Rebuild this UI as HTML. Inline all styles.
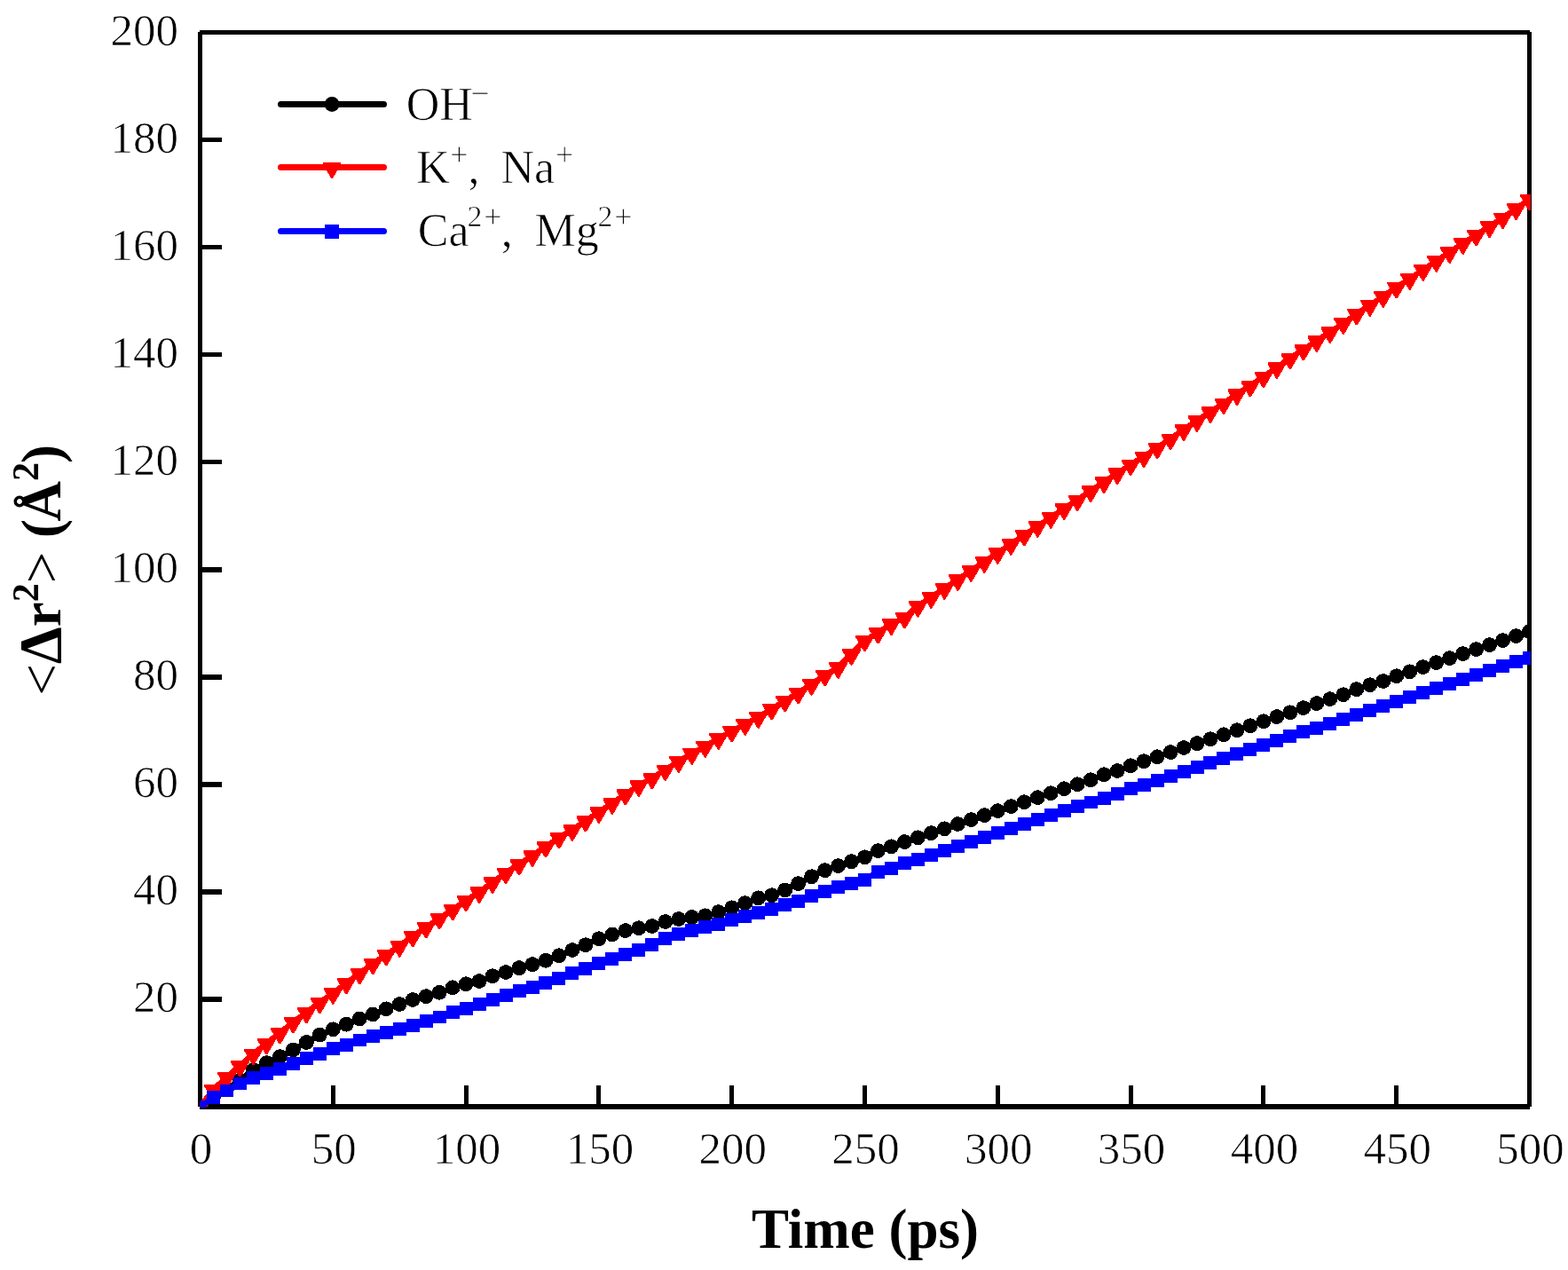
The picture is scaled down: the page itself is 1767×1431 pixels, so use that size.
<!DOCTYPE html>
<html><head><meta charset="utf-8"><title>MSD plot</title>
<style>html,body{margin:0;padding:0;background:#fff;} svg{display:block;} text{white-space:pre;}</style>
</head><body>
<svg width="1767" height="1431" viewBox="0 0 1767 1431">
<rect x="0" y="0" width="1767" height="1431" fill="#fff"/>
<defs><clipPath id="pc"><rect x="225.6" y="36" width="1499.3" height="1211.6"/></clipPath></defs>
<g stroke="#000" stroke-width="5" fill="none" shape-rendering="crispEdges">
<path d="M225.5,36 V1247 M1723.5,36 V1247 M225,36.5 H1724"/>
<path d="M225,1247.0 H1724" stroke-width="6"/>
<path d="M225.5,1125.95 H250.0" stroke-width="5.5"/>
<path d="M225.5,1004.90 H250.0" stroke-width="5.5"/>
<path d="M225.5,883.85 H250.0" stroke-width="5.5"/>
<path d="M225.5,762.80 H250.0" stroke-width="5.5"/>
<path d="M225.5,641.75 H250.0" stroke-width="5.5"/>
<path d="M225.5,520.70 H250.0" stroke-width="5.5"/>
<path d="M225.5,399.65 H250.0" stroke-width="5.5"/>
<path d="M225.5,278.60 H250.0" stroke-width="5.5"/>
<path d="M225.5,157.55 H250.0" stroke-width="5.5"/>
<path d="M375.30,1247.0 V1222.5"/>
<path d="M525.10,1247.0 V1222.5"/>
<path d="M674.90,1247.0 V1222.5"/>
<path d="M824.70,1247.0 V1222.5"/>
<path d="M974.50,1247.0 V1222.5"/>
<path d="M1124.30,1247.0 V1222.5"/>
<path d="M1274.10,1247.0 V1222.5"/>
<path d="M1423.90,1247.0 V1222.5"/>
<path d="M1573.70,1247.0 V1222.5"/>
</g>
<g font-family="'Liberation Serif', 'Times New Roman', serif" font-size="51" fill="#000" stroke="#fff" stroke-width="0.7">
<text x="200.9" y="1140.4" text-anchor="end">20</text>
<text x="200.9" y="1019.3" text-anchor="end">40</text>
<text x="200.9" y="898.2" text-anchor="end">60</text>
<text x="200.9" y="777.2" text-anchor="end">80</text>
<text x="200.9" y="656.1" text-anchor="end">100</text>
<text x="200.9" y="535.1" text-anchor="end">120</text>
<text x="200.9" y="414.0" text-anchor="end">140</text>
<text x="200.9" y="293.0" text-anchor="end">160</text>
<text x="200.9" y="171.9" text-anchor="end">180</text>
<text x="200.9" y="50.9" text-anchor="end">200</text>
<text x="226.5" y="1311.3" text-anchor="middle">0</text>
<text x="376.3" y="1311.3" text-anchor="middle">50</text>
<text x="526.1" y="1311.3" text-anchor="middle">100</text>
<text x="675.9" y="1311.3" text-anchor="middle">150</text>
<text x="825.7" y="1311.3" text-anchor="middle">200</text>
<text x="975.5" y="1311.3" text-anchor="middle">250</text>
<text x="1125.3" y="1311.3" text-anchor="middle">300</text>
<text x="1275.1" y="1311.3" text-anchor="middle">350</text>
<text x="1424.9" y="1311.3" text-anchor="middle">400</text>
<text x="1574.7" y="1311.3" text-anchor="middle">450</text>
<text x="1724.5" y="1311.3" text-anchor="middle">500</text>
</g>
<text x="975" y="1405.5" text-anchor="middle" font-family="'Liberation Serif', 'Times New Roman', serif" font-weight="bold" font-size="63">Time (ps)</text>
<text transform="translate(68,783.85) rotate(-90)" font-family="'Liberation Serif', 'Times New Roman', serif" font-size="63"><tspan>&lt;</tspan><tspan font-weight="bold" font-size="67">&#916;</tspan><tspan font-weight="bold">r</tspan><tspan font-weight="bold" font-size="42" dy="-25.5">2</tspan><tspan dy="25.5">&gt; </tspan><tspan font-weight="bold">(</tspan><tspan font-weight="bold" dx="-2.5">&#197;</tspan><tspan font-weight="bold" font-size="42" dy="-25.5">2</tspan><tspan font-weight="bold" dy="25.5" dx="-1">)</tspan></text>
<g clip-path="url(#pc)" shape-rendering="crispEdges">
<polyline points="225.50,1247.00 240.48,1236.11 255.46,1227.03 270.44,1217.52 285.42,1205.48 300.40,1197.61 315.38,1190.59 330.36,1182.90 345.34,1174.49 360.32,1166.08 375.30,1159.78 390.28,1154.22 405.26,1147.92 420.24,1142.90 435.22,1136.78 450.20,1131.52 465.18,1126.49 480.16,1122.62 495.14,1118.38 510.12,1112.82 525.10,1108.70 540.08,1105.49 555.06,1099.68 570.04,1095.51 585.02,1090.60 600.00,1086.61 614.98,1082.37 629.96,1076.74 644.94,1070.51 659.92,1064.64 674.90,1057.74 689.88,1052.90 704.86,1048.60 719.84,1045.69 734.82,1043.51 749.80,1038.49 764.78,1035.53 779.76,1033.47 794.74,1031.77 809.72,1027.60 824.70,1022.82 839.68,1017.61 854.66,1011.80 869.64,1008.71 884.62,1002.90 899.60,995.58 914.58,987.71 929.56,980.69 944.54,975.61 959.52,970.70 974.50,965.80 989.48,958.60 1004.46,953.88 1019.44,948.67 1034.42,943.77 1049.40,938.69 1064.38,933.78 1079.36,928.52 1094.34,923.61 1109.32,918.59 1124.30,913.63 1139.28,908.60 1154.26,903.70 1169.24,898.62 1184.22,893.72 1199.20,888.69 1214.18,883.67 1229.16,878.71 1244.14,872.71 1259.12,868.48 1274.10,862.79 1289.08,857.70 1304.06,852.80 1319.04,847.60 1334.02,842.57 1349.00,837.61 1363.98,832.71 1378.96,827.80 1393.94,822.78 1408.92,817.70 1423.90,812.79 1438.88,807.59 1453.86,802.81 1468.84,797.60 1483.82,792.58 1498.80,787.62 1513.78,782.71 1528.76,776.72 1543.74,771.70 1558.72,767.52 1573.70,761.71 1588.68,756.81 1603.66,751.66 1618.64,746.64 1633.62,741.62 1648.60,736.59 1663.58,731.57 1678.56,726.61 1693.54,721.58 1708.52,716.62 1723.50,711.66" fill="none" stroke="#000" stroke-width="6.5" stroke-linejoin="round"/>
<g fill="#000"><circle cx="225.50" cy="1247.00" r="8.4"/><circle cx="240.48" cy="1236.11" r="8.4"/><circle cx="255.46" cy="1227.03" r="8.4"/><circle cx="270.44" cy="1217.52" r="8.4"/><circle cx="285.42" cy="1205.48" r="8.4"/><circle cx="300.40" cy="1197.61" r="8.4"/><circle cx="315.38" cy="1190.59" r="8.4"/><circle cx="330.36" cy="1182.90" r="8.4"/><circle cx="345.34" cy="1174.49" r="8.4"/><circle cx="360.32" cy="1166.08" r="8.4"/><circle cx="375.30" cy="1159.78" r="8.4"/><circle cx="390.28" cy="1154.22" r="8.4"/><circle cx="405.26" cy="1147.92" r="8.4"/><circle cx="420.24" cy="1142.90" r="8.4"/><circle cx="435.22" cy="1136.78" r="8.4"/><circle cx="450.20" cy="1131.52" r="8.4"/><circle cx="465.18" cy="1126.49" r="8.4"/><circle cx="480.16" cy="1122.62" r="8.4"/><circle cx="495.14" cy="1118.38" r="8.4"/><circle cx="510.12" cy="1112.82" r="8.4"/><circle cx="525.10" cy="1108.70" r="8.4"/><circle cx="540.08" cy="1105.49" r="8.4"/><circle cx="555.06" cy="1099.68" r="8.4"/><circle cx="570.04" cy="1095.51" r="8.4"/><circle cx="585.02" cy="1090.60" r="8.4"/><circle cx="600.00" cy="1086.61" r="8.4"/><circle cx="614.98" cy="1082.37" r="8.4"/><circle cx="629.96" cy="1076.74" r="8.4"/><circle cx="644.94" cy="1070.51" r="8.4"/><circle cx="659.92" cy="1064.64" r="8.4"/><circle cx="674.90" cy="1057.74" r="8.4"/><circle cx="689.88" cy="1052.90" r="8.4"/><circle cx="704.86" cy="1048.60" r="8.4"/><circle cx="719.84" cy="1045.69" r="8.4"/><circle cx="734.82" cy="1043.51" r="8.4"/><circle cx="749.80" cy="1038.49" r="8.4"/><circle cx="764.78" cy="1035.53" r="8.4"/><circle cx="779.76" cy="1033.47" r="8.4"/><circle cx="794.74" cy="1031.77" r="8.4"/><circle cx="809.72" cy="1027.60" r="8.4"/><circle cx="824.70" cy="1022.82" r="8.4"/><circle cx="839.68" cy="1017.61" r="8.4"/><circle cx="854.66" cy="1011.80" r="8.4"/><circle cx="869.64" cy="1008.71" r="8.4"/><circle cx="884.62" cy="1002.90" r="8.4"/><circle cx="899.60" cy="995.58" r="8.4"/><circle cx="914.58" cy="987.71" r="8.4"/><circle cx="929.56" cy="980.69" r="8.4"/><circle cx="944.54" cy="975.61" r="8.4"/><circle cx="959.52" cy="970.70" r="8.4"/><circle cx="974.50" cy="965.80" r="8.4"/><circle cx="989.48" cy="958.60" r="8.4"/><circle cx="1004.46" cy="953.88" r="8.4"/><circle cx="1019.44" cy="948.67" r="8.4"/><circle cx="1034.42" cy="943.77" r="8.4"/><circle cx="1049.40" cy="938.69" r="8.4"/><circle cx="1064.38" cy="933.78" r="8.4"/><circle cx="1079.36" cy="928.52" r="8.4"/><circle cx="1094.34" cy="923.61" r="8.4"/><circle cx="1109.32" cy="918.59" r="8.4"/><circle cx="1124.30" cy="913.63" r="8.4"/><circle cx="1139.28" cy="908.60" r="8.4"/><circle cx="1154.26" cy="903.70" r="8.4"/><circle cx="1169.24" cy="898.62" r="8.4"/><circle cx="1184.22" cy="893.72" r="8.4"/><circle cx="1199.20" cy="888.69" r="8.4"/><circle cx="1214.18" cy="883.67" r="8.4"/><circle cx="1229.16" cy="878.71" r="8.4"/><circle cx="1244.14" cy="872.71" r="8.4"/><circle cx="1259.12" cy="868.48" r="8.4"/><circle cx="1274.10" cy="862.79" r="8.4"/><circle cx="1289.08" cy="857.70" r="8.4"/><circle cx="1304.06" cy="852.80" r="8.4"/><circle cx="1319.04" cy="847.60" r="8.4"/><circle cx="1334.02" cy="842.57" r="8.4"/><circle cx="1349.00" cy="837.61" r="8.4"/><circle cx="1363.98" cy="832.71" r="8.4"/><circle cx="1378.96" cy="827.80" r="8.4"/><circle cx="1393.94" cy="822.78" r="8.4"/><circle cx="1408.92" cy="817.70" r="8.4"/><circle cx="1423.90" cy="812.79" r="8.4"/><circle cx="1438.88" cy="807.59" r="8.4"/><circle cx="1453.86" cy="802.81" r="8.4"/><circle cx="1468.84" cy="797.60" r="8.4"/><circle cx="1483.82" cy="792.58" r="8.4"/><circle cx="1498.80" cy="787.62" r="8.4"/><circle cx="1513.78" cy="782.71" r="8.4"/><circle cx="1528.76" cy="776.72" r="8.4"/><circle cx="1543.74" cy="771.70" r="8.4"/><circle cx="1558.72" cy="767.52" r="8.4"/><circle cx="1573.70" cy="761.71" r="8.4"/><circle cx="1588.68" cy="756.81" r="8.4"/><circle cx="1603.66" cy="751.66" r="8.4"/><circle cx="1618.64" cy="746.64" r="8.4"/><circle cx="1633.62" cy="741.62" r="8.4"/><circle cx="1648.60" cy="736.59" r="8.4"/><circle cx="1663.58" cy="731.57" r="8.4"/><circle cx="1678.56" cy="726.61" r="8.4"/><circle cx="1693.54" cy="721.58" r="8.4"/><circle cx="1708.52" cy="716.62" r="8.4"/><circle cx="1723.50" cy="711.66" r="8.4"/></g>
<polyline points="225.50,1247.00 240.48,1227.63 255.46,1213.71 270.44,1200.88 285.42,1187.62 300.40,1175.70 315.38,1163.78 330.36,1151.85 345.34,1140.78 360.32,1129.58 375.30,1119.11 390.28,1107.79 405.26,1096.72 420.24,1085.70 435.22,1075.77 450.20,1065.91 465.18,1054.77 480.16,1044.73 495.14,1034.62 510.12,1024.81 525.10,1014.71 540.08,1005.20 555.06,994.13 570.04,983.60 585.02,973.79 600.00,964.11 614.98,953.82 629.96,943.77 644.94,934.99 659.92,924.89 674.90,915.08 689.88,904.97 704.86,894.87 719.84,885.12 734.82,876.71 749.80,867.33 764.78,858.19 779.76,848.99 794.74,841.12 809.72,831.98 824.70,823.87 839.68,816.00 854.66,808.07 869.64,798.81 884.62,789.79 899.60,780.78 914.58,770.97 929.56,760.86 944.54,752.09 959.52,737.02 974.50,721.70 989.48,712.87 1004.46,703.18 1019.44,695.86 1034.42,682.91 1049.40,672.98 1064.38,662.99 1079.36,653.13 1094.34,643.08 1109.32,632.97 1124.30,622.99 1139.28,613.00 1154.26,602.89 1169.24,593.03 1184.22,582.98 1199.20,573.11 1214.18,563.31 1229.16,553.20 1244.14,543.22 1259.12,533.29 1274.10,523.42 1289.08,514.41 1304.06,504.60 1319.04,494.49 1334.02,483.96 1349.00,473.97 1363.98,464.11 1378.96,454.30 1393.94,444.20 1408.92,434.82 1423.90,424.47 1438.88,414.12 1453.86,403.58 1468.84,393.78 1483.82,384.10 1498.80,374.29 1513.78,364.18 1528.76,353.89 1543.74,343.91 1558.72,333.98 1573.70,323.87 1588.68,314.07 1603.66,304.02 1618.64,293.97 1633.62,284.11 1648.60,274.06 1663.58,264.80 1678.56,255.18 1693.54,245.31 1708.52,235.26 1723.50,224.73" fill="none" stroke="#f00" stroke-width="6.5" stroke-linejoin="round"/>
<g fill="#f00" shape-rendering="crispEdges"><path d="M215.20,1241.20H235.80V1243.40L226.40,1259.60H224.60L215.20,1243.40Z"/><path d="M230.18,1221.83H250.78V1224.03L241.38,1240.23H239.58L230.18,1224.03Z"/><path d="M245.16,1207.91H265.76V1210.11L256.36,1226.31H254.56L245.16,1210.11Z"/><path d="M260.14,1195.08H280.74V1197.28L271.34,1213.48H269.54L260.14,1197.28Z"/><path d="M275.12,1181.82H295.72V1184.02L286.32,1200.22H284.52L275.12,1184.02Z"/><path d="M290.10,1169.90H310.70V1172.10L301.30,1188.30H299.50L290.10,1172.10Z"/><path d="M305.08,1157.98H325.68V1160.18L316.28,1176.38H314.48L305.08,1160.18Z"/><path d="M320.06,1146.05H340.66V1148.25L331.26,1164.45H329.46L320.06,1148.25Z"/><path d="M335.04,1134.98H355.64V1137.18L346.24,1153.38H344.44L335.04,1137.18Z"/><path d="M350.02,1123.78H370.62V1125.98L361.22,1142.18H359.42L350.02,1125.98Z"/><path d="M365.00,1113.31H385.60V1115.51L376.20,1131.71H374.40L365.00,1115.51Z"/><path d="M379.98,1101.99H400.58V1104.19L391.18,1120.39H389.38L379.98,1104.19Z"/><path d="M394.96,1090.92H415.56V1093.12L406.16,1109.32H404.36L394.96,1093.12Z"/><path d="M409.94,1079.90H430.54V1082.10L421.14,1098.30H419.34L409.94,1082.10Z"/><path d="M424.92,1069.97H445.52V1072.17L436.12,1088.37H434.32L424.92,1072.17Z"/><path d="M439.90,1060.11H460.50V1062.31L451.10,1078.51H449.30L439.90,1062.31Z"/><path d="M454.88,1048.97H475.48V1051.17L466.08,1067.37H464.28L454.88,1051.17Z"/><path d="M469.86,1038.93H490.46V1041.13L481.06,1057.33H479.26L469.86,1041.13Z"/><path d="M484.84,1028.82H505.44V1031.02L496.04,1047.22H494.24L484.84,1031.02Z"/><path d="M499.82,1019.01H520.42V1021.21L511.02,1037.41H509.22L499.82,1021.21Z"/><path d="M514.80,1008.91H535.40V1011.11L526.00,1027.31H524.20L514.80,1011.11Z"/><path d="M529.78,999.40H550.38V1001.60L540.98,1017.80H539.18L529.78,1001.60Z"/><path d="M544.76,988.33H565.36V990.53L555.96,1006.73H554.16L544.76,990.53Z"/><path d="M559.74,977.80H580.34V980.00L570.94,996.20H569.14L559.74,980.00Z"/><path d="M574.72,967.99H595.32V970.19L585.92,986.39H584.12L574.72,970.19Z"/><path d="M589.70,958.31H610.30V960.51L600.90,976.71H599.10L589.70,960.51Z"/><path d="M604.68,948.02H625.28V950.22L615.88,966.42H614.08L604.68,950.22Z"/><path d="M619.66,937.97H640.26V940.17L630.86,956.37H629.06L619.66,940.17Z"/><path d="M634.64,929.19H655.24V931.39L645.84,947.59H644.04L634.64,931.39Z"/><path d="M649.62,919.09H670.22V921.29L660.82,937.49H659.02L649.62,921.29Z"/><path d="M664.60,909.28H685.20V911.48L675.80,927.68H674.00L664.60,911.48Z"/><path d="M679.58,899.17H700.18V901.37L690.78,917.57H688.98L679.58,901.37Z"/><path d="M694.56,889.07H715.16V891.27L705.76,907.47H703.96L694.56,891.27Z"/><path d="M709.54,879.32H730.14V881.52L720.74,897.72H718.94L709.54,881.52Z"/><path d="M724.52,870.91H745.12V873.11L735.72,889.31H733.92L724.52,873.11Z"/><path d="M739.50,861.53H760.10V863.73L750.70,879.93H748.90L739.50,863.73Z"/><path d="M754.48,852.39H775.08V854.59L765.68,870.79H763.88L754.48,854.59Z"/><path d="M769.46,843.19H790.06V845.39L780.66,861.59H778.86L769.46,845.39Z"/><path d="M784.44,835.32H805.04V837.52L795.64,853.72H793.84L784.44,837.52Z"/><path d="M799.42,826.18H820.02V828.38L810.62,844.58H808.82L799.42,828.38Z"/><path d="M814.40,818.07H835.00V820.27L825.60,836.47H823.80L814.40,820.27Z"/><path d="M829.38,810.20H849.98V812.40L840.58,828.60H838.78L829.38,812.40Z"/><path d="M844.36,802.27H864.96V804.47L855.56,820.67H853.76L844.36,804.47Z"/><path d="M859.34,793.01H879.94V795.21L870.54,811.41H868.74L859.34,795.21Z"/><path d="M874.32,783.99H894.92V786.19L885.52,802.39H883.72L874.32,786.19Z"/><path d="M889.30,774.98H909.90V777.18L900.50,793.38H898.70L889.30,777.18Z"/><path d="M904.28,765.17H924.88V767.37L915.48,783.57H913.68L904.28,767.37Z"/><path d="M919.26,755.06H939.86V757.26L930.46,773.46H928.66L919.26,757.26Z"/><path d="M934.24,746.29H954.84V748.49L945.44,764.69H943.64L934.24,748.49Z"/><path d="M949.22,731.22H969.82V733.42L960.42,749.62H958.62L949.22,733.42Z"/><path d="M964.20,715.90H984.80V718.10L975.40,734.30H973.60L964.20,718.10Z"/><path d="M979.18,707.07H999.78V709.27L990.38,725.47H988.58L979.18,709.27Z"/><path d="M994.16,697.38H1014.76V699.58L1005.36,715.78H1003.56L994.16,699.58Z"/><path d="M1009.14,690.06H1029.74V692.26L1020.34,708.46H1018.54L1009.14,692.26Z"/><path d="M1024.12,677.11H1044.72V679.31L1035.32,695.51H1033.52L1024.12,679.31Z"/><path d="M1039.10,667.18H1059.70V669.38L1050.30,685.58H1048.50L1039.10,669.38Z"/><path d="M1054.08,657.19H1074.68V659.39L1065.28,675.59H1063.48L1054.08,659.39Z"/><path d="M1069.06,647.33H1089.66V649.53L1080.26,665.73H1078.46L1069.06,649.53Z"/><path d="M1084.04,637.28H1104.64V639.48L1095.24,655.68H1093.44L1084.04,639.48Z"/><path d="M1099.02,627.17H1119.62V629.37L1110.22,645.57H1108.42L1099.02,629.37Z"/><path d="M1114.00,617.19H1134.60V619.39L1125.20,635.59H1123.40L1114.00,619.39Z"/><path d="M1128.98,607.20H1149.58V609.40L1140.18,625.60H1138.38L1128.98,609.40Z"/><path d="M1143.96,597.09H1164.56V599.29L1155.16,615.49H1153.36L1143.96,599.29Z"/><path d="M1158.94,587.23H1179.54V589.43L1170.14,605.63H1168.34L1158.94,589.43Z"/><path d="M1173.92,577.18H1194.52V579.38L1185.12,595.58H1183.32L1173.92,579.38Z"/><path d="M1188.90,567.31H1209.50V569.51L1200.10,585.71H1198.30L1188.90,569.51Z"/><path d="M1203.88,557.51H1224.48V559.71L1215.08,575.91H1213.28L1203.88,559.71Z"/><path d="M1218.86,547.40H1239.46V549.60L1230.06,565.80H1228.26L1218.86,549.60Z"/><path d="M1233.84,537.42H1254.44V539.62L1245.04,555.82H1243.24L1233.84,539.62Z"/><path d="M1248.82,527.49H1269.42V529.69L1260.02,545.89H1258.22L1248.82,529.69Z"/><path d="M1263.80,517.62H1284.40V519.82L1275.00,536.02H1273.20L1263.80,519.82Z"/><path d="M1278.78,508.61H1299.38V510.81L1289.98,527.01H1288.18L1278.78,510.81Z"/><path d="M1293.76,498.80H1314.36V501.00L1304.96,517.20H1303.16L1293.76,501.00Z"/><path d="M1308.74,488.69H1329.34V490.89L1319.94,507.09H1318.14L1308.74,490.89Z"/><path d="M1323.72,478.16H1344.32V480.36L1334.92,496.56H1333.12L1323.72,480.36Z"/><path d="M1338.70,468.17H1359.30V470.37L1349.90,486.57H1348.10L1338.70,470.37Z"/><path d="M1353.68,458.31H1374.28V460.51L1364.88,476.71H1363.08L1353.68,460.51Z"/><path d="M1368.66,448.50H1389.26V450.70L1379.86,466.90H1378.06L1368.66,450.70Z"/><path d="M1383.64,438.40H1404.24V440.60L1394.84,456.80H1393.04L1383.64,440.60Z"/><path d="M1398.62,429.02H1419.22V431.22L1409.82,447.42H1408.02L1398.62,431.22Z"/><path d="M1413.60,418.67H1434.20V420.87L1424.80,437.07H1423.00L1413.60,420.87Z"/><path d="M1428.58,408.32H1449.18V410.52L1439.78,426.72H1437.98L1428.58,410.52Z"/><path d="M1443.56,397.78H1464.16V399.98L1454.76,416.18H1452.96L1443.56,399.98Z"/><path d="M1458.54,387.98H1479.14V390.18L1469.74,406.38H1467.94L1458.54,390.18Z"/><path d="M1473.52,378.30H1494.12V380.50L1484.72,396.70H1482.92L1473.52,380.50Z"/><path d="M1488.50,368.49H1509.10V370.69L1499.70,386.89H1497.90L1488.50,370.69Z"/><path d="M1503.48,358.38H1524.08V360.58L1514.68,376.78H1512.88L1503.48,360.58Z"/><path d="M1518.46,348.09H1539.06V350.29L1529.66,366.49H1527.86L1518.46,350.29Z"/><path d="M1533.44,338.11H1554.04V340.31L1544.64,356.51H1542.84L1533.44,340.31Z"/><path d="M1548.42,328.18H1569.02V330.38L1559.62,346.58H1557.82L1548.42,330.38Z"/><path d="M1563.40,318.07H1584.00V320.27L1574.60,336.47H1572.80L1563.40,320.27Z"/><path d="M1578.38,308.27H1598.98V310.47L1589.58,326.67H1587.78L1578.38,310.47Z"/><path d="M1593.36,298.22H1613.96V300.42L1604.56,316.62H1602.76L1593.36,300.42Z"/><path d="M1608.34,288.17H1628.94V290.37L1619.54,306.57H1617.74L1608.34,290.37Z"/><path d="M1623.32,278.31H1643.92V280.51L1634.52,296.71H1632.72L1623.32,280.51Z"/><path d="M1638.30,268.26H1658.90V270.46L1649.50,286.66H1647.70L1638.30,270.46Z"/><path d="M1653.28,259.00H1673.88V261.20L1664.48,277.40H1662.68L1653.28,261.20Z"/><path d="M1668.26,249.38H1688.86V251.58L1679.46,267.78H1677.66L1668.26,251.58Z"/><path d="M1683.24,239.51H1703.84V241.71L1694.44,257.91H1692.64L1683.24,241.71Z"/><path d="M1698.22,229.46H1718.82V231.66L1709.42,247.86H1707.62L1698.22,231.66Z"/><path d="M1713.20,218.93H1733.80V221.13L1724.40,237.33H1722.60L1713.20,221.13Z"/></g>
<polyline points="225.50,1247.00 240.48,1236.77 255.46,1229.08 270.44,1220.85 285.42,1214.74 300.40,1209.72 315.38,1204.33 330.36,1198.52 345.34,1192.65 360.32,1187.32 375.30,1181.45 390.28,1177.28 405.26,1171.95 420.24,1167.71 435.22,1163.48 450.20,1159.54 465.18,1155.49 480.16,1150.52 495.14,1145.86 510.12,1140.54 525.10,1136.54 540.08,1131.70 555.06,1126.49 570.04,1121.77 585.02,1116.51 600.00,1112.57 614.98,1107.61 629.96,1102.71 644.94,1096.60 659.92,1091.57 674.90,1085.58 689.88,1080.56 704.86,1075.59 719.84,1070.57 734.82,1064.64 749.80,1057.50 764.78,1052.47 779.76,1048.36 794.74,1044.54 809.72,1041.40 824.70,1036.31 839.68,1032.50 854.66,1028.50 869.64,1024.33 884.62,1019.61 899.60,1015.43 914.58,1009.62 929.56,1004.54 944.54,999.45 959.52,995.46 974.50,991.58 989.48,982.32 1004.46,978.45 1019.44,972.46 1034.42,968.52 1049.40,963.50 1064.38,958.54 1079.36,953.39 1094.34,948.49 1109.32,943.41 1124.30,938.38 1139.28,933.66 1154.26,928.40 1169.24,923.49 1184.22,918.47 1199.20,913.51 1214.18,908.48 1229.16,903.82 1244.14,899.22 1259.12,894.62 1274.10,888.69 1289.08,884.46 1304.06,879.61 1319.04,874.47 1334.02,869.51 1349.00,864.48 1363.98,859.64 1378.96,854.62 1393.94,849.59 1408.92,844.39 1423.90,839.61 1438.88,834.52 1453.86,829.50 1468.84,824.47 1483.82,820.30 1498.80,815.46 1513.78,810.61 1528.76,805.47 1543.74,800.39 1558.72,795.48 1573.70,790.46 1588.68,785.50 1603.66,780.47 1618.64,775.45 1633.62,770.43 1648.60,765.46 1663.58,760.44 1678.56,755.48 1693.54,750.45 1708.52,745.49 1723.50,741.37" fill="none" stroke="#00f" stroke-width="6.5" stroke-linejoin="round"/>
<g fill="#00f" shape-rendering="crispEdges"><rect x="218.00" y="1239.70" width="15" height="14.6"/><rect x="232.98" y="1229.47" width="15" height="14.6"/><rect x="247.96" y="1221.78" width="15" height="14.6"/><rect x="262.94" y="1213.55" width="15" height="14.6"/><rect x="277.92" y="1207.44" width="15" height="14.6"/><rect x="292.90" y="1202.42" width="15" height="14.6"/><rect x="307.88" y="1197.03" width="15" height="14.6"/><rect x="322.86" y="1191.22" width="15" height="14.6"/><rect x="337.84" y="1185.35" width="15" height="14.6"/><rect x="352.82" y="1180.02" width="15" height="14.6"/><rect x="367.80" y="1174.15" width="15" height="14.6"/><rect x="382.78" y="1169.98" width="15" height="14.6"/><rect x="397.76" y="1164.65" width="15" height="14.6"/><rect x="412.74" y="1160.41" width="15" height="14.6"/><rect x="427.72" y="1156.18" width="15" height="14.6"/><rect x="442.70" y="1152.24" width="15" height="14.6"/><rect x="457.68" y="1148.19" width="15" height="14.6"/><rect x="472.66" y="1143.22" width="15" height="14.6"/><rect x="487.64" y="1138.56" width="15" height="14.6"/><rect x="502.62" y="1133.24" width="15" height="14.6"/><rect x="517.60" y="1129.24" width="15" height="14.6"/><rect x="532.58" y="1124.40" width="15" height="14.6"/><rect x="547.56" y="1119.19" width="15" height="14.6"/><rect x="562.54" y="1114.47" width="15" height="14.6"/><rect x="577.52" y="1109.21" width="15" height="14.6"/><rect x="592.50" y="1105.27" width="15" height="14.6"/><rect x="607.48" y="1100.31" width="15" height="14.6"/><rect x="622.46" y="1095.41" width="15" height="14.6"/><rect x="637.44" y="1089.30" width="15" height="14.6"/><rect x="652.42" y="1084.27" width="15" height="14.6"/><rect x="667.40" y="1078.28" width="15" height="14.6"/><rect x="682.38" y="1073.26" width="15" height="14.6"/><rect x="697.36" y="1068.29" width="15" height="14.6"/><rect x="712.34" y="1063.27" width="15" height="14.6"/><rect x="727.32" y="1057.34" width="15" height="14.6"/><rect x="742.30" y="1050.20" width="15" height="14.6"/><rect x="757.28" y="1045.17" width="15" height="14.6"/><rect x="772.26" y="1041.06" width="15" height="14.6"/><rect x="787.24" y="1037.24" width="15" height="14.6"/><rect x="802.22" y="1034.10" width="15" height="14.6"/><rect x="817.20" y="1029.01" width="15" height="14.6"/><rect x="832.18" y="1025.20" width="15" height="14.6"/><rect x="847.16" y="1021.20" width="15" height="14.6"/><rect x="862.14" y="1017.03" width="15" height="14.6"/><rect x="877.12" y="1012.31" width="15" height="14.6"/><rect x="892.10" y="1008.13" width="15" height="14.6"/><rect x="907.08" y="1002.32" width="15" height="14.6"/><rect x="922.06" y="997.24" width="15" height="14.6"/><rect x="937.04" y="992.15" width="15" height="14.6"/><rect x="952.02" y="988.16" width="15" height="14.6"/><rect x="967.00" y="984.28" width="15" height="14.6"/><rect x="981.98" y="975.02" width="15" height="14.6"/><rect x="996.96" y="971.15" width="15" height="14.6"/><rect x="1011.94" y="965.16" width="15" height="14.6"/><rect x="1026.92" y="961.22" width="15" height="14.6"/><rect x="1041.90" y="956.20" width="15" height="14.6"/><rect x="1056.88" y="951.24" width="15" height="14.6"/><rect x="1071.86" y="946.09" width="15" height="14.6"/><rect x="1086.84" y="941.19" width="15" height="14.6"/><rect x="1101.82" y="936.11" width="15" height="14.6"/><rect x="1116.80" y="931.08" width="15" height="14.6"/><rect x="1131.78" y="926.36" width="15" height="14.6"/><rect x="1146.76" y="921.10" width="15" height="14.6"/><rect x="1161.74" y="916.19" width="15" height="14.6"/><rect x="1176.72" y="911.17" width="15" height="14.6"/><rect x="1191.70" y="906.21" width="15" height="14.6"/><rect x="1206.68" y="901.18" width="15" height="14.6"/><rect x="1221.66" y="896.52" width="15" height="14.6"/><rect x="1236.64" y="891.92" width="15" height="14.6"/><rect x="1251.62" y="887.32" width="15" height="14.6"/><rect x="1266.60" y="881.39" width="15" height="14.6"/><rect x="1281.58" y="877.16" width="15" height="14.6"/><rect x="1296.56" y="872.31" width="15" height="14.6"/><rect x="1311.54" y="867.17" width="15" height="14.6"/><rect x="1326.52" y="862.21" width="15" height="14.6"/><rect x="1341.50" y="857.18" width="15" height="14.6"/><rect x="1356.48" y="852.34" width="15" height="14.6"/><rect x="1371.46" y="847.32" width="15" height="14.6"/><rect x="1386.44" y="842.29" width="15" height="14.6"/><rect x="1401.42" y="837.09" width="15" height="14.6"/><rect x="1416.40" y="832.31" width="15" height="14.6"/><rect x="1431.38" y="827.22" width="15" height="14.6"/><rect x="1446.36" y="822.20" width="15" height="14.6"/><rect x="1461.34" y="817.17" width="15" height="14.6"/><rect x="1476.32" y="813.00" width="15" height="14.6"/><rect x="1491.30" y="808.16" width="15" height="14.6"/><rect x="1506.28" y="803.31" width="15" height="14.6"/><rect x="1521.26" y="798.17" width="15" height="14.6"/><rect x="1536.24" y="793.09" width="15" height="14.6"/><rect x="1551.22" y="788.18" width="15" height="14.6"/><rect x="1566.20" y="783.16" width="15" height="14.6"/><rect x="1581.18" y="778.20" width="15" height="14.6"/><rect x="1596.16" y="773.17" width="15" height="14.6"/><rect x="1611.14" y="768.15" width="15" height="14.6"/><rect x="1626.12" y="763.13" width="15" height="14.6"/><rect x="1641.10" y="758.16" width="15" height="14.6"/><rect x="1656.08" y="753.14" width="15" height="14.6"/><rect x="1671.06" y="748.18" width="15" height="14.6"/><rect x="1686.04" y="743.15" width="15" height="14.6"/><rect x="1701.02" y="738.19" width="15" height="14.6"/><rect x="1716.00" y="734.07" width="15" height="14.6"/></g>
</g>
<path d="M316.5,117.5 H432.5" stroke="#000" stroke-width="7" stroke-linecap="round"/>
<path d="M316.5,188.5 H432.5" stroke="#f00" stroke-width="7" stroke-linecap="round"/>
<path d="M316.5,260.5 H432.5" stroke="#00f" stroke-width="7" stroke-linecap="round"/>
<circle cx="374.1" cy="117.5" r="8.4" fill="#000"/>
<path d="M363.8,182.7H384.40000000000003V184.9L375.0,201.1H373.20000000000005L363.8,184.9Z" fill="#f00" shape-rendering="crispEdges"/>
<rect x="366.1" y="252.5" width="16" height="16" fill="#00f" shape-rendering="crispEdges"/>
<g font-family="'Liberation Serif', 'Times New Roman', serif" fill="#000" stroke="#fff" stroke-width="0.7"><text x="457.7" y="135.2" font-size="52">OH</text><text x="530.3" y="117.9" font-size="38">&#8722;</text><text x="469.3" y="205.9" font-size="52">K</text><text x="507.2" y="185.7" font-size="36">+</text><text x="527.6" y="205.9" font-size="52">,</text><text x="564.4" y="205.9" font-size="52">Na</text><text x="626.1" y="185.7" font-size="36">+</text><text x="470.8" y="277.4" font-size="52">Ca</text><text x="526.5" y="255.3" font-size="34">2</text><text x="545.3" y="256.3" font-size="36">+</text><text x="564.7" y="277.4" font-size="52">,</text><text x="602.4" y="277.4" font-size="52">Mg</text><text x="673.6" y="255.3" font-size="34">2</text><text x="692.2" y="256.3" font-size="36">+</text></g>
</svg>
</body></html>
